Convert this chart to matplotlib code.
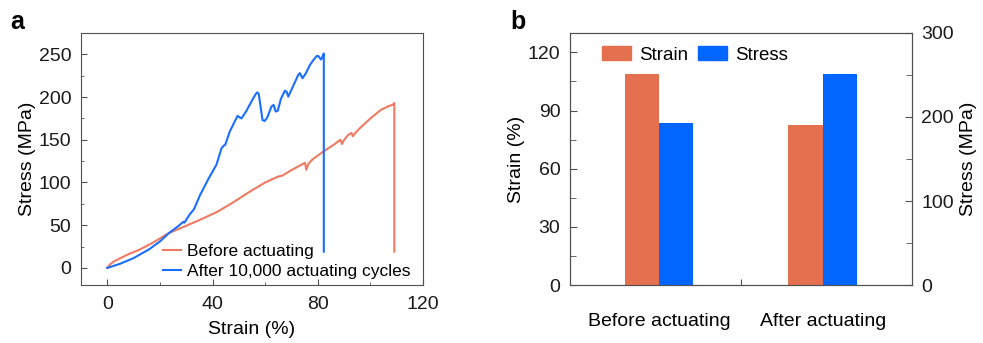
import matplotlib.pyplot as plt
from matplotlib.patches import Patch
from matplotlib.ticker import MultipleLocator

plt.rcParams["font.family"] = ["Liberation Sans", "DejaVu Sans"]

# ---- panel a: stress-strain curves ----
before_strain = [0, 1, 2.5, 5, 8, 12, 17, 23.5, 29, 35, 42, 48, 54, 60, 65, 66.5, 70,
                 74.5, 75.2, 75.6, 76.5, 78, 82, 86, 88.6, 89.2, 89.8, 91.5, 92.8, 93.3,
                 94, 96, 100, 104, 107, 108.5, 109.1, 109.1]
before_stress = [0, 4, 7.5, 11.5, 16, 21, 29, 41, 48, 56, 66, 77, 89, 100, 107, 108, 114.5,
                 122, 123, 115, 122, 127, 136, 144, 150, 145, 149, 155.5, 158, 154,
                 157, 163.5, 175, 185, 189.5, 191, 193, 19]

after_strain = [0, 5, 10, 16, 20, 23.5, 27, 28.9, 29.3, 31.4, 32.5, 33, 35.2, 38.4, 41.5,
                43.4, 44.2, 44.8, 46.6, 49.5, 50.4, 51, 52.9, 55, 56.5, 57.1, 57.6, 58.3,
                59, 59.8, 60.8, 62.4, 63.2, 64, 64.8, 66, 67.5, 68.2, 68.8, 70.5, 72.6,
                73.2, 74.2, 75.5, 77, 78.5, 79.6, 80.2, 81.2, 81.6, 82.3, 82.3]
after_stress = [0, 5, 11.5, 22, 31, 41, 49, 54, 53, 63, 67, 69, 85, 104, 121,
                140, 143, 144, 160, 178, 176, 175, 184, 196, 204, 205.5, 203, 188,
                173, 172, 176, 189, 190.8, 183, 184, 198, 207.5, 206, 200.5, 212, 226,
                228, 222, 228, 237.5, 244, 248, 248, 244, 246, 251, 19]

# ---- panel b: bars ----
conditions = ["Before actuating", "After actuating"]
strain_pct = [109.1, 82.3]
stress_mpa = [193, 251]

RED_LINE = "#EE7A62"
BLUE_LINE = "#1A6EFF"
RED_BAR = "#E5704F"
BLUE_BAR = "#0066FF"
SPINE = "#505050"

fig = plt.figure(figsize=(9.83, 3.43), dpi=100)

# panel a
ax = fig.add_axes([81 / 983, 58 / 343, 342 / 983, 252 / 343])
ax.plot(before_strain, before_stress, color=RED_LINE, lw=1.5, label="Before actuating")
ax.plot(after_strain, after_stress, color=BLUE_LINE, lw=1.5,
        label="After 10,000 actuating cycles")
ax.set_xlim(-10, 120)
ax.set_ylim(-20, 275)
ax.set_xticks([0, 40, 80, 120])
ax.set_yticks([0, 50, 100, 150, 200, 250])
ax.xaxis.set_minor_locator(MultipleLocator(20))
ax.yaxis.set_minor_locator(MultipleLocator(25))
ax.tick_params(which="both", direction="in", colors=SPINE, labelcolor="#1a1a1a",
               labelsize=14)
ax.tick_params(which="major", length=4)
ax.tick_params(which="minor", length=2.5)
ax.tick_params(axis="x", pad=8)
ax.tick_params(axis="y", pad=7)
ax.set_xlabel("Strain (%)", fontsize=14, labelpad=6)
ax.set_ylabel("Stress (MPa)", fontsize=14, labelpad=2)
for s in ax.spines.values():
    s.set_color(SPINE)
ax.legend(loc="lower right", bbox_to_anchor=(1.0, -0.025), frameon=False, fontsize=12.5,
          handlelength=1.05, handletextpad=0.35, labelspacing=0.28, borderpad=0.2)
fig.text(10 / 983, 1 - 22 / 343, "a", fontsize=18, fontweight="bold", va="center")

# panel b
bx = fig.add_axes([570 / 983, 58 / 343, 341.7 / 983, 252 / 343])
tx = bx.twinx()
w = 0.21
pos = list(range(len(conditions)))
bx.bar([p - w / 2 for p in pos], strain_pct, w, color=RED_BAR)
tx.bar([p + w / 2 for p in pos], stress_mpa, w, color=BLUE_BAR)
bx.set_xlim(-0.544, 1.544)
bx.set_ylim(0, 130)
tx.set_ylim(0, 300)
bx.set_yticks([0, 30, 60, 90, 120])
bx.yaxis.set_minor_locator(MultipleLocator(15))
tx.set_yticks([0, 100, 200, 300])
tx.yaxis.set_minor_locator(MultipleLocator(50))
bx.set_xticks([0.5])
bx.set_xticklabels([""])
bx.set_xticks(pos, minor=True)
bx.set_xticklabels(conditions, minor=True)
bx.tick_params(axis="x", which="minor", length=0, pad=20, labelsize=14)
bx.tick_params(axis="x", which="major", direction="in", length=4, colors=SPINE)
for a_ in (bx, tx):
    a_.tick_params(axis="y", which="both", direction="in", colors=SPINE,
                   labelcolor="#1a1a1a", labelsize=14, pad=7)
    a_.tick_params(axis="y", which="major", length=5)
    a_.tick_params(axis="y", which="minor", length=4)
    for s in a_.spines.values():
        s.set_color(SPINE)
bx.set_ylabel("Strain (%)", fontsize=14, labelpad=2)
tx.set_ylabel("Stress (MPa)", fontsize=14, labelpad=4)
handles = [Patch(color=RED_BAR), Patch(color=BLUE_BAR)]
tx.legend(handles, ["Strain", "Stress"], loc="upper left", bbox_to_anchor=(0.055, 1.0),
          ncol=2, frameon=False, fontsize=13.5, handlelength=1.55, handleheight=0.75,
          handletextpad=0.45, columnspacing=0.5, borderpad=0.2)
fig.text(510 / 983, 1 - 22 / 343, "b", fontsize=18, fontweight="bold", va="center")

fig.savefig("out.png", dpi=100)
